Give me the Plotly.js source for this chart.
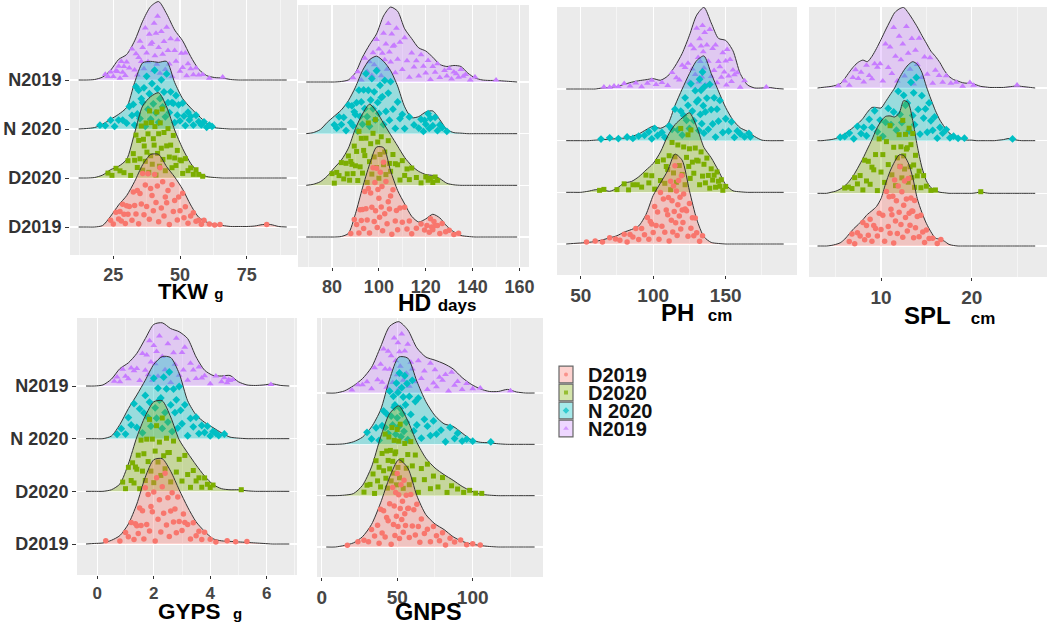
<!DOCTYPE html>
<html><head><meta charset="utf-8">
<script src="https://cdn.plot.ly/plotly-3.0.1.min.js"></script>
<style>html,body{margin:0;padding:0;background:#fff}#chart{width:1052px;height:628px}</style>
</head><body><div id="chart"></div>
<script>
const GROUPS = ['D2019','D2020','N 2020','N2019'];
const COLORS = ['#F8766D','#7CAE00','#00BFC4','#C77CFF'];
const FILLS = ['rgba(248,118,109,0.33)','rgba(124,174,0,0.33)','rgba(0,191,196,0.35)','rgba(199,124,255,0.3)'];
const SYMBOLS = ['circle','square','diamond','triangle-up'];
const MSIZE = [5.5,5,6,6];
// hand-typed vertical jitter fractions (position inside the ridge area)
const JITTER = [0.55,0.12,0.83,0.34,0.67,0.21,0.91,0.45,0.08,0.72,0.38,0.6,0.15,0.88,0.5,0.27,0.78,0.04,0.64,0.41,0.95,0.19,0.7,0.32,0.85,0.1,0.58,0.47,0.23,0.8,0.36,0.62,0.06,0.93,0.29,0.75,0.17,0.52,0.43,0.68,0.02,0.87,0.31,0.57,0.14,0.74,0.4,0.97,0.25,0.66,0.09,0.49,0.81,0.35,0.6,0.18,0.9,0.44,0.28,0.71,0.53];

// ---- TKW (g) ----
const TKW_X = [12,15,18,21,24,27,30,33,36,39,42,45,48,51,54,57,60,63,66,69,72,75,78,81,84,87,90];
const TKW_D2019 = [0,0,0,0.03,0.22,0.45,0.64,0.93,1.27,1.48,1.48,1.23,1.02,0.77,0.45,0.2,0.1,0.05,0.03,0.01,0.01,0.01,0.02,0.05,0.05,0.01,0];
const TKW_D2020 = [0,0,0.01,0.06,0.17,0.24,0.38,0.92,1.47,1.66,1.74,1.45,0.98,0.6,0.3,0.11,0.03,0.01,0,0,0,0,0,0,0,0,0];
const TKW_N2020 = [0,0.01,0.03,0.1,0.2,0.3,0.44,0.95,1.35,1.38,1.36,1.38,0.95,0.62,0.43,0.27,0.12,0.03,0.01,0,0,0,0,0,0,0,0];
const TKW_N2019 = [0,0,0.01,0.06,0.2,0.42,0.52,0.8,1.2,1.5,1.6,1.35,1.02,0.8,0.48,0.22,0.09,0.05,0.04,0.01,0,0,0,0,0,0,0];
const TKW_P_D2019 = [24,25,26,27,27.5,28,28.5,29,29.5,30,30.5,31,32,32.5,33,33.5,34,34.5,35,35.5,36,36.5,37,37.5,38,38.5,39,39.5,40,40.5,41,41.5,42,42.5,43,43.5,44,44.5,45,45.5,46,47,47.5,48,49,49.5,50,51,51.5,52,53,54,55,56,57,58,59,61,63,65,82.5];
const TKW_P_D2020 = [23,24.5,26,27.5,29,30.5,31.5,32.5,33,33.5,34,34.5,35,35.5,36,36.3,36.6,37,37.3,37.6,38,38.3,38.6,39,39.3,39.6,40,40.3,40.6,41,41.3,41.6,42,42.3,42.6,43,43.3,43.6,44,44.5,45,45.5,46,46.5,47,47.5,48,48.5,49,50,50.5,51,52,53,54,55,56,57,58.5];
const TKW_P_N2020 = [20,22,24,25.5,27,28.5,30,31,32,32.5,33,33.5,34,34.5,35,35.5,36,36.5,37,37.5,38,38.5,39,39.5,40,40.5,41,41.5,42,42.5,43,43.5,44,44.5,45,45.5,46,46.5,47,47.5,48,48.5,49,49.5,50,51,51.5,52,53,53.5,54,55,56,57,58,59,60,61,62];
const TKW_P_N2019 = [22,23,24,25,26,26.5,27,27.5,28,28.5,29,29.5,30,31,32,33,33.5,34,34.5,35,35.5,36,36.5,37,37.5,38,38.5,39,39.5,40,40.3,40.6,41,41.3,41.6,42,42.5,43,43.5,44,44.5,45,45.5,46,46.5,47,48,48.5,49,50,50.5,51,52,52.5,53,54,55,56,57,58.5,61,66];

// ---- HD (days) ----
const HD_X = [69,72,75,78,81,84,87,90,93,96,99,102,105,108,111,114,117,120,123,126,129,132,135,138,141,144,147,150,153,156,159];
const HD_D2019 = [0,0,0,0,0,0.01,0.07,0.45,0.95,1.4,1.74,1.73,1.28,0.9,0.64,0.4,0.29,0.35,0.44,0.37,0.21,0.1,0.03,0.01,0,0,0,0,0,0,0];
const HD_D2020 = [0,0.02,0.07,0.18,0.34,0.49,0.72,1.1,1.38,1.57,1.43,1.2,0.98,0.76,0.54,0.38,0.27,0.21,0.19,0.13,0.04,0.01,0,0,0,0,0,0,0,0,0];
const HD_N2020 = [0,0.02,0.08,0.22,0.34,0.46,0.64,0.9,1.22,1.43,1.5,1.4,1.22,0.92,0.52,0.31,0.33,0.42,0.44,0.27,0.08,0.02,0.01,0,0,0,0,0,0,0,0];
const HD_N2019 = [0,0,0,0,0,0.01,0.04,0.18,0.48,0.72,0.93,1.28,1.45,1.37,1.03,0.84,0.66,0.6,0.48,0.34,0.3,0.32,0.3,0.17,0.08,0.04,0.03,0.03,0.02,0.01,0];
const HD_P_D2019 = [88,89.5,90.5,91.5,92,92.5,93,93.5,94,94.5,95,95.5,96,96.5,97,97.5,98,98.3,98.6,99,99.3,99.6,100,100.3,100.6,101,101.3,101.6,102,102.5,103,103.5,104,104.5,105,105.5,106,107,107.5,108,109,110,111,112,113,114,116,118,119.5,120.5,121.5,122,122.5,123,123.5,124,125,126,127,128.5,130,132,134];
const HD_P_D2020 = [80,81,82,83,84,85,86,86.5,87,87.5,88,88.5,89,89.5,90,90.5,91,91.5,92,92.5,93,93.5,94,94.5,95,95.5,96,96.5,97,97.5,98,98.5,99,99.5,100,100.5,101,102,102.5,103,104,104.5,105,106,107,108,109,110,111,112,113,114,116,118,120,121,122,123,124,125];
const HD_P_N2020 = [81,82,83,84,85,86,87,88,88.5,89,89.5,90,90.5,91,91.5,92,92.5,93,93.5,94,94.5,95,95.5,96,96.5,97,97.5,98,98.5,99,99.5,100,100.5,101,101.5,102,102.5,103,104,104.5,105,106,107,108,109,110,111,113,115,117,118,119,119.5,120,121,121.5,122,123,124,125,126,127,129];
const HD_P_N2019 = [89,91,92.5,94,95,96,97,97.5,98,99,99.5,100,101,101.5,102,102.5,103,103.5,104,104.5,105,105.5,106,106.5,107,107.5,108,109,110,111,112,113,114,115,116,117,118,119,120,121,122,123,124,125,126,128,129,130,131,132,133,134,135,136,137,139,141,150];

// ---- PH (cm) ----
const PH_X = [40,45,50,55,60,65,70,75,80,85,90,95,100,105,110,115,120,125,130,135,140,145,150,155,160,165,170,175,180,185,190];
const PH_D2019 = [0,0.01,0.02,0.03,0.05,0.08,0.12,0.16,0.23,0.28,0.35,0.57,0.94,1.18,1.42,1.74,1.62,1.03,0.48,0.14,0.03,0.01,0,0,0,0,0,0,0,0,0];
const PH_D2020 = [0,0,0,0.02,0.05,0.05,0.02,0.08,0.18,0.21,0.3,0.43,0.56,0.78,1.09,1.31,1.44,1.54,1.27,0.87,0.67,0.42,0.15,0.03,0.01,0,0,0,0,0,0];
const PH_N2020 = [0,0,0,0,0.01,0.02,0.03,0.04,0.05,0.08,0.13,0.21,0.28,0.24,0.32,0.68,1.0,1.3,1.55,1.64,1.3,0.96,0.64,0.4,0.25,0.18,0.08,0.01,0,0,0];
const PH_N2019 = [0,0,0,0,0,0.02,0.03,0.05,0.09,0.13,0.16,0.18,0.2,0.17,0.25,0.44,0.69,1.04,1.43,1.58,1.28,0.98,0.94,0.74,0.3,0.08,0.02,0.02,0.03,0.01,0];
const PH_P_D2019 = [54,60,65,70,74,77,80,82,84,86,88,90,92,94,96,97,98,99,100,101,102,103,104,105,106,107,108,109,110,110.5,111,112,112.5,113,113.5,114,114.5,115,115.5,116,116.5,117,117.5,118,118.5,119,119.5,120,120.5,121,122,123,124,125,126,127,128,129,130,132,134];
const PH_P_D2020 = [63,66,75,80,83,86,89,92,95,97,99,101,103,105,107,108,109,110,111,112,113,114,115,116,117,118,119,120,121,122,123,124,124.5,125,125.5,126,127,128,129,130,131,132,133,134,135,136,137,138,139,140,141,142,143,144,145,146,147,148,150];
const PH_P_N2020 = [64,70,76,82,86,90,94,97,99,101,103,106,108,111,113,115,117,119,120,121,122,123,124,125,126,127,128,129,130,131,131.5,132,132.5,133,133.5,134,134.5,135,135.5,136,137,138,139,140,141,142,143,144,145,146,148,150,152,154,156,158,160,163,166,167];
const PH_P_N2019 = [66,70,73,76,80,84,88,92,96,99,102,106,110,113,116,118,120,122,124,125,126,127,128,129,130,131,131.5,132,132.5,133,133.5,134,134.5,135,135.5,136,137,138,139,140,141,142,143,144,145,146,147,148,149,150,150.5,151,152,153,154,155,156,158,160,163,178];

// ---- SPL (cm) ----
const SPL_X = [3,3.5,4,4.5,5,5.5,6,6.5,7,7.5,8,8.5,9,9.5,10,10.5,11,11.5,12,12.5,13,13.5,14,14.5,15,15.5,16,16.5,17,17.5,18,18.5,19,19.5,20,20.5,21,21.5,22,22.5,23,23.5,24,24.5,25,25.5,26,26.5,27];
const SPL_D2019 = [0,0,0,0.01,0.03,0.06,0.13,0.23,0.33,0.41,0.5,0.6,0.67,0.75,0.9,1.18,1.42,1.6,1.73,1.72,1.58,1.3,0.9,0.64,0.43,0.27,0.15,0.13,0.09,0.03,0.01,0,0,0,0,0,0,0,0,0,0,0,0,0,0,0,0,0,0];
const SPL_D2020 = [0,0,0,0.02,0.04,0.08,0.14,0.23,0.35,0.5,0.66,0.84,1.02,1.22,1.37,1.46,1.47,1.45,1.52,1.76,1.72,1.38,0.9,0.5,0.24,0.11,0.05,0.02,0.01,0,0,0,0,0,0,0.01,0.03,0.01,0,0,0,0,0,0,0,0,0,0,0];
const SPL_N2020 = [0,0,0.01,0.02,0.04,0.08,0.13,0.19,0.26,0.33,0.42,0.54,0.63,0.63,0.62,0.74,0.87,1.0,1.18,1.33,1.44,1.5,1.45,1.3,1.03,0.79,0.57,0.39,0.26,0.15,0.09,0.05,0.03,0.01,0.01,0,0,0,0,0,0.01,0.02,0.04,0.03,0.01,0,0,0,0];
const SPL_N2019 = [0,0.01,0.02,0.03,0.05,0.08,0.18,0.3,0.41,0.49,0.53,0.5,0.6,0.75,0.92,1.1,1.27,1.43,1.5,1.53,1.43,1.3,1.16,1.0,0.85,0.7,0.6,0.48,0.33,0.22,0.16,0.13,0.1,0.09,0.09,0.06,0.03,0.02,0.01,0.01,0.01,0.01,0.02,0.03,0.04,0.03,0.02,0.01,0];
const SPL_P_D2019 = [6.5,6.8,7.1,7.4,7.7,8,8.2,8.4,8.6,8.8,9,9.2,9.4,9.6,9.8,10,10.2,10.4,10.6,10.8,10.9,11,11.1,11.2,11.3,11.4,11.5,11.6,11.7,11.8,11.9,12,12.1,12.2,12.3,12.4,12.5,12.6,12.7,12.8,12.9,13,13.1,13.2,13.3,13.4,13.5,13.6,13.7,13.8,14,14.2,14.4,14.6,14.8,15,15.3,15.7,16.2,16.6];
const SPL_P_D2020 = [6,6.4,6.8,7.1,7.4,7.7,8,8.2,8.4,8.6,8.8,9,9.2,9.4,9.6,9.8,10,10.2,10.4,10.6,10.8,11,11.2,11.4,11.6,11.8,12,12.1,12.2,12.3,12.4,12.5,12.6,12.7,12.8,12.9,13,13.1,13.2,13.3,13.4,13.5,13.6,13.7,13.8,14,14.2,14.4,14.7,15,15.5,16,21];
const SPL_P_N2020 = [5.5,6,6.5,7,7.4,7.8,8.1,8.4,8.7,9,9.3,9.6,9.9,10.2,10.5,10.8,11.1,11.4,11.7,11.9,12.1,12.3,12.5,12.7,12.9,13.1,13.3,13.5,13.6,13.7,13.9,14.1,14.3,14.5,14.7,14.9,15.1,15.3,15.5,15.7,15.9,16.2,16.5,16.8,17.2,17.6,18,18.5,19.2,24.5];
const SPL_P_N2019 = [5.3,6,6.5,6.9,7.2,7.5,7.8,8.1,8.4,8.7,9,9.3,9.6,9.9,10.2,10.5,10.8,11,11.2,11.4,11.6,11.8,12,12.2,12.4,12.6,12.8,13,13.2,13.4,13.6,13.8,14,14.2,14.5,14.8,15.1,15.4,15.7,16,16.4,16.8,17.2,17.7,18.3,19,19.8,20.2,25];

// ---- GYPS (g) ----
const GYPS_X = [-0.4,-0.1,0.2,0.5,0.8,1.1,1.4,1.7,2.0,2.3,2.6,2.9,3.2,3.5,3.8,4.1,4.4,4.7,5.0,5.3,5.6,5.9,6.2,6.5,6.8];
const GYPS_D2019 = [0,0.01,0.02,0.07,0.16,0.38,0.76,1.27,1.6,1.62,1.38,1.03,0.7,0.42,0.24,0.1,0.06,0.05,0.04,0.03,0.02,0.01,0,0,0];
const GYPS_D2020 = [0,0,0,0.03,0.14,0.52,1.03,1.43,1.7,1.72,1.41,0.98,0.73,0.5,0.29,0.13,0.05,0.03,0.03,0.01,0,0,0,0,0];
const GYPS_N2020 = [0,0,0,0.05,0.27,0.57,0.83,1.11,1.41,1.56,1.54,1.24,0.72,0.45,0.31,0.21,0.11,0.03,0.01,0,0,0,0,0,0];
const GYPS_N2019 = [0,0,0.02,0.13,0.33,0.44,0.62,0.9,1.17,1.2,1.09,1.03,0.9,0.55,0.3,0.2,0.19,0.2,0.08,0.02,0.01,0.02,0.04,0.01,0];
const GYPS_P_D2019 = [0.3,0.8,1.0,1.1,1.2,1.3,1.35,1.4,1.45,1.5,1.55,1.6,1.65,1.7,1.75,1.8,1.85,1.9,1.95,2.0,2.05,2.1,2.15,2.2,2.25,2.3,2.35,2.4,2.45,2.5,2.55,2.6,2.65,2.7,2.75,2.8,2.85,2.9,3.0,3.05,3.1,3.2,3.3,3.4,3.5,3.6,3.7,3.8,4.0,4.2,4.6,4.9,5.3];
const GYPS_P_D2020 = [0.9,1.0,1.1,1.2,1.25,1.3,1.35,1.4,1.45,1.5,1.55,1.6,1.65,1.7,1.75,1.8,1.85,1.9,1.95,2.0,2.05,2.1,2.15,2.2,2.25,2.3,2.35,2.4,2.45,2.5,2.55,2.6,2.7,2.8,2.9,3.0,3.1,3.2,3.3,3.4,3.5,3.6,3.7,3.8,3.9,4.0,4.1,5.1];
const GYPS_P_N2020 = [0.7,0.85,1.0,1.1,1.2,1.3,1.4,1.5,1.6,1.65,1.7,1.8,1.85,1.9,2.0,2.05,2.1,2.15,2.2,2.25,2.3,2.35,2.4,2.45,2.5,2.55,2.6,2.65,2.7,2.75,2.8,2.85,2.9,2.95,3.0,3.1,3.2,3.3,3.4,3.5,3.6,3.7,3.8,3.9,4.0,4.1,4.2,4.3,4.5];
const GYPS_P_N2019 = [0.6,0.7,0.8,0.9,1.0,1.1,1.2,1.3,1.4,1.5,1.6,1.7,1.75,1.8,1.85,1.9,1.95,2.0,2.05,2.1,2.15,2.2,2.3,2.4,2.5,2.6,2.7,2.75,2.8,2.9,3.0,3.05,3.1,3.2,3.3,3.4,3.5,3.6,3.7,3.8,4.0,4.2,4.4,4.5,4.6,4.65,4.7,4.8,6.15];

// ---- GNPS ----
const GNPS_X = [3,9,15,21,27,33,39,45,51,57,63,69,75,81,87,93,99,105,111,117,123,129,135,141];
const GNPS_D2019 = [0,0,0.03,0.08,0.2,0.44,0.86,1.36,1.7,1.54,1.0,0.63,0.45,0.34,0.2,0.11,0.06,0.03,0.01,0,0,0,0,0];
const GNPS_D2020 = [0,0,0.01,0.04,0.2,0.56,1.14,1.6,1.75,1.46,1.04,0.73,0.54,0.41,0.3,0.18,0.09,0.03,0.01,0,0,0,0,0];
const GNPS_N2020 = [0,0,0.01,0.05,0.14,0.34,0.67,1.27,1.7,1.68,1.23,0.83,0.56,0.4,0.35,0.22,0.09,0.04,0.03,0.01,0,0,0,0];
const GNPS_N2019 = [0,0,0.04,0.14,0.28,0.5,0.9,1.3,1.39,1.23,0.88,0.7,0.64,0.57,0.47,0.3,0.17,0.08,0.03,0.03,0.07,0.02,0,0];
const GNPS_P_D2019 = [17,24,28,31,33,35,37,38,39,40,41,42,43,44,45,46,47,47.5,48,48.5,49,49.5,50,50.5,51,51.5,52,52.5,53,53.5,54,54.5,55,55.5,56,57,57.5,58,59,60,61,62,63,64,65,66,68,70,72,74,76,78,80,82,85,88,92,96,100,105];
const GNPS_P_D2020 = [28,30,32,34,35,36,37,38,39,40,41,42,42.5,43,43.5,44,44.5,45,45.5,46,46.5,47,47.5,48,48.5,49,49.5,50,50.5,51,51.5,52,53,54,55,56,57,58,59,60,61,62,64,66,68,70,72,74,77,80,83,86,90,94,98,102,106];
const GNPS_P_N2020 = [30,33,36,38,40,41,42,43,44,45,46,47,47.5,48,48.5,49,49.5,50,50.5,51,51.5,52,52.5,53,53.5,54,54.5,55,55.5,56,56.5,57,58,59,60,61,62,63,64,66,68,70,72,74,76,79,82,85,88,90,93,96,100,112];
const GNPS_P_N2019 = [20,24,27,30,33,35,37,39,40,41,42,43,44,45,46,47,48,49,50,50.5,51,51.5,52,53,54,55,56,57,58,59,60,62,64,66,68,70,72,74,75,76,78,80,82,84,86,88,90,93,96,100,105,125];

// ---- titles ----
const NB = '\u00a0';
function ttl(main, sub, gap, subSize) {
  return '<b>' + main + gap + '</b>' + (sub ? '<span style="font-size:' + subSize + 'px"><b>' + sub + '</b></span>' : '');
}

// ---- panel placement (pixels in the 1052x628 figure) ----
const PANELS = [
  {grid:TKW_X, dens:[TKW_D2019,TKW_D2020,TKW_N2020,TKW_N2019], pts:[TKW_P_D2019,TKW_P_D2020,TKW_P_N2020,TKW_P_N2019],
   box:[70,297,0,255], base:[80,227], ticks:[25,113.3,75,246.7], dtick:25, minor:12.5, ylab:true, tick:18,
   title:ttl('TKW','g',NB,15), tsize:22, tpos:[190.5,291]},
  {grid:HD_X, dens:[HD_D2019,HD_D2020,HD_N2020,HD_N2019], pts:[HD_P_D2019,HD_P_D2020,HD_P_N2020,HD_P_N2019],
   box:[298,529,5,267], base:[82,237], ticks:[80,332,160,519.5], dtick:20, minor:10, ylab:false, tick:18,
   title:ttl('HD','days',NB,17), tsize:23, tpos:[437,303]},
  {grid:PH_X, dens:[PH_D2019,PH_D2020,PH_N2020,PH_N2019], pts:[PH_P_D2019,PH_P_D2020,PH_P_N2020,PH_P_N2019],
   box:[557,797,7,275], base:[89,244], ticks:[50,580.7,150,725.7], dtick:50, minor:25, ylab:false, tick:19,
   title:ttl('PH','cm',NB+NB,17), tsize:24, tpos:[696,312.5]},
  {grid:SPL_X, dens:[SPL_D2019,SPL_D2020,SPL_N2020,SPL_N2019], pts:[SPL_P_D2019,SPL_P_D2020,SPL_P_N2020,SPL_P_N2019],
   box:[809,1047,7,277], base:[88,246], ticks:[10,881,20,971.7], dtick:10, minor:5, ylab:false, tick:19,
   title:ttl('SPL','cm',NB+NB+NB,17), tsize:24, tpos:[949,315.5]},
  {grid:GYPS_X, dens:[GYPS_D2019,GYPS_D2020,GYPS_N2020,GYPS_N2019], pts:[GYPS_P_D2019,GYPS_P_D2020,GYPS_P_N2020,GYPS_P_N2019],
   box:[77,297,318,575], base:[386,544], ticks:[0,97.3,6,266.7], dtick:2, minor:1, ylab:true, tick:17,
   title:ttl('GYPS','g',NB+NB,15), tsize:22.5, tpos:[200,611]},
  {grid:GNPS_X, dens:[GNPS_D2019,GNPS_D2020,GNPS_N2020,GNPS_N2019], pts:[GNPS_P_D2019,GNPS_P_D2020,GNPS_P_N2020,GNPS_P_N2019],
   box:[317,543,318,577], base:[393,547], ticks:[0,321.7,100,472.7], dtick:50, minor:25, ylab:false, tick:19,
   title:ttl('GNPS','', '', 0), tsize:23.5, tpos:[428.5,612]}
];

const W = 1052, H = 628;
const FONT = 'Liberation Sans, Arial, sans-serif';

function interp(xs, ys, x) {
  if (x <= xs[0] || x >= xs[xs.length - 1]) return 0;
  for (let i = 0; i < xs.length - 1; i++) {
    if (x >= xs[i] && x <= xs[i + 1]) {
      const t = (x - xs[i]) / (xs[i + 1] - xs[i]);
      return ys[i] + t * (ys[i + 1] - ys[i]);
    }
  }
  return 0;
}

const traces = [];
const layout = {
  width: W, height: H, margin: {l: 0, r: 0, t: 0, b: 0},
  paper_bgcolor: '#ffffff', plot_bgcolor: '#EBEBEB',
  showlegend: false, hovermode: false,
  font: {family: FONT, color: '#333'},
  annotations: [], shapes: []
};

PANELS.forEach((p, k) => {
  const n = k + 1;
  const sfx = n === 1 ? '' : String(n);
  const xa = 'x' + sfx, ya = 'y' + sfx;
  for (let g = 3; g >= 0; g--) {
    const base = g + 1;
    traces.push({type: 'scatter', mode: 'lines', x: p.grid, y: p.grid.map(() => base),
      line: {width: 0, color: 'rgba(0,0,0,0)'}, xaxis: xa, yaxis: ya, hoverinfo: 'skip', showlegend: false});
    traces.push({type: 'scatter', mode: 'lines', x: p.grid, y: p.dens[g].map(v => base + v),
      fill: 'tonexty', fillcolor: FILLS[g],
      line: {color: '#333333', width: 1, shape: 'spline', smoothing: 0.7},
      xaxis: xa, yaxis: ya, hoverinfo: 'skip', showlegend: false});
    const px = p.pts[g];
    const py = px.map((x, i) => base + 0.03 + JITTER[(i + g * 11 + k * 5) % JITTER.length] * 0.88 * interp(p.grid, p.dens[g], x));
    traces.push({type: 'scatter', mode: 'markers', x: px, y: py,
      marker: {symbol: SYMBOLS[g], size: MSIZE[g], color: COLORS[g], line: {width: 0}},
      xaxis: xa, yaxis: ya, hoverinfo: 'skip', showlegend: false});
  }
  const [x0, x1, y0, y1] = p.box;
  const [t1, t1px, t2, t2px] = p.ticks;
  const ppu = (t2px - t1px) / (t2 - t1);
  const xr = [t1 - (t1px - x0) / ppu, t2 + (x1 - t2px) / ppu];
  const [b4, b1] = p.base;
  const s = (b1 - b4) / 3;
  const yr = [1 - (y1 - b1) / s, 4 + (b4 - y0) / s];
  layout['xaxis' + sfx] = {
    domain: [x0 / W, x1 / W], range: xr, anchor: ya,
    tickmode: 'linear', tick0: 0, dtick: p.dtick,
    showgrid: true, gridcolor: '#ffffff', gridwidth: 1.1,
    minor: {dtick: p.minor, tick0: 0, showgrid: true, gridcolor: '#ffffff', gridwidth: 0.5, ticks: ''},
    zeroline: false, showline: false,
    ticks: 'outside', ticklen: 3, tickcolor: '#333', tickwidth: 1,
    tickfont: {family: FONT, size: p.tick, color: '#454545', weight: 700},
    fixedrange: true
  };
  layout['yaxis' + sfx] = {
    domain: [1 - y1 / H, 1 - y0 / H], range: yr, anchor: xa,
    tickmode: 'array', tickvals: [1, 2, 3, 4], ticktext: GROUPS.map(t => '<b>' + t + '</b>'),
    showticklabels: p.ylab, ticks: p.ylab ? 'outside' : '', ticklen: 4, tickcolor: '#333',
    showgrid: true, gridcolor: '#ffffff', gridwidth: 1.1,
    zeroline: false, showline: false,
    tickfont: {family: FONT, size: 18, color: '#333', weight: 700},
    fixedrange: true
  };
  layout.annotations.push({xref: 'paper', yref: 'paper', x: p.tpos[0] / W, y: 1 - p.tpos[1] / H,
    xanchor: 'center', yanchor: 'middle', showarrow: false, text: p.title,
    font: {family: FONT, size: p.tsize, color: '#000'}});
});

// ---- legend (drawn on a hidden axis pair) ----
const LEG_ROW = [12.5, 30.5, 48.5, 66.5];
layout.xaxis7 = {domain: [555 / W, 670 / W], range: [0, 115], visible: false, fixedrange: true, anchor: 'y7'};
layout.yaxis7 = {domain: [1 - 442 / H, 1 - 362 / H], range: [80, 0], visible: false, fixedrange: true, anchor: 'x7'};
layout.shapes.push({type: 'rect', xref: 'x7', yref: 'y7', x0: 0, x1: 115, y0: 0, y1: 80,
  fillcolor: '#ffffff', line: {width: 0}, layer: 'below'});
GROUPS.forEach((name, g) => {
  layout.shapes.push({type: 'rect', xref: 'x7', yref: 'y7', x0: 4, x1: 18, y0: LEG_ROW[g] - 8.3, y1: LEG_ROW[g] + 8.3,
    fillcolor: FILLS[g], line: {color: '#666', width: 1.2}, layer: 'below'});
  layout.annotations.push({xref: 'x7', yref: 'y7', x: 31, y: LEG_ROW[g], xanchor: 'left', yanchor: 'middle',
    showarrow: false, text: '<b>' + name + '</b>', font: {family: FONT, size: 20, color: '#111'}});
});
traces.push({type: 'scatter', mode: 'markers', x: GROUPS.map(() => 11), y: LEG_ROW,
  marker: {symbol: SYMBOLS, size: [4, 4, 5, 5], color: COLORS, line: {width: 0}},
  xaxis: 'x7', yaxis: 'y7', hoverinfo: 'skip', showlegend: false});

Plotly.newPlot('chart', traces, layout, {displayModeBar: false, staticPlot: true});
</script>
</body></html>
